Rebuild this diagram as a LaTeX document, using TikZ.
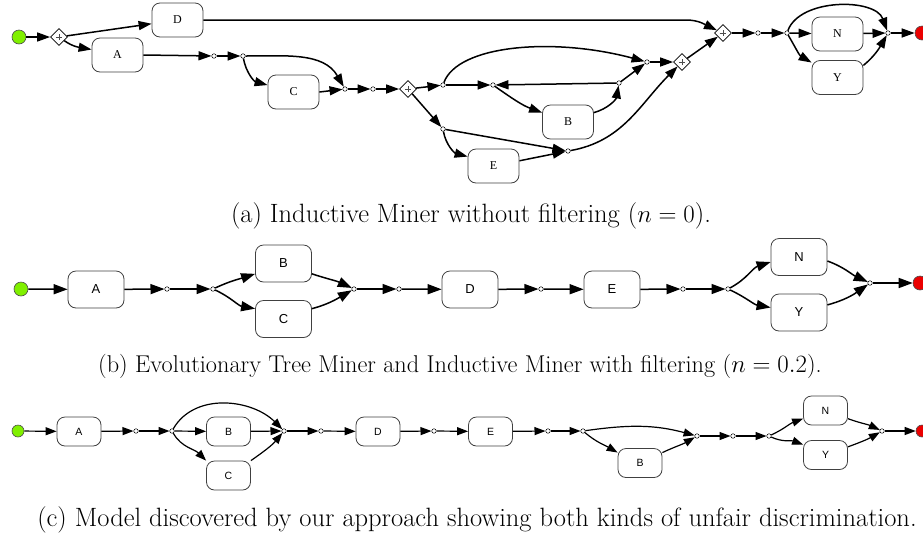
\documentclass[tikz,border=0pt]{standalone}
\usepackage{fontspec}
\newfontfamily\nodeserif{Liberation Serif}
\newfontfamily\nodesans{Liberation Sans}
\usetikzlibrary{arrows.meta,shapes.geometric}
\definecolor{startgreen}{RGB}{128,240,0}
\definecolor{endred}{RGB}{235,0,0}
\tikzset{
  task/.style={draw=black!75, line width=0.8pt, rounded corners=8pt, fill=white, inner sep=0pt},
  taska/.style={task, minimum width=51pt, minimum height=34pt, font=\nodeserif\fontsize{12}{12}\selectfont},
  taskb/.style={task, minimum width=56pt, minimum height=37pt, font=\nodesans\fontsize{13}{13}\selectfont},
  taskc/.style={task, minimum width=44pt, minimum height=29pt, font=\nodesans\fontsize{10.5}{10.5}\selectfont},
  place/.style={circle, draw=black, line width=0.5pt, fill=white, inner sep=0pt, minimum size=4.5pt},
  startev/.style={circle, draw=black!70, line width=0.6pt, fill=startgreen, inner sep=0pt, minimum size=14pt},
  endev/.style={circle, draw=black!70, line width=0.6pt, fill=endred, inner sep=0pt, minimum size=14pt},
  andgate/.style={diamond, draw=black, line width=0.7pt, fill=white, inner sep=0pt,
    minimum width=17pt, minimum height=17pt,
    path picture={\draw[line width=0.5pt, black!70]
      ([xshift=-3.2pt]path picture bounding box.center) -- ([xshift=3.2pt]path picture bounding box.center)
      ([yshift=-3.2pt]path picture bounding box.center) -- ([yshift=3.2pt]path picture bounding box.center);}},
  flowa/.style={line width=1.5pt, -{Triangle[length=13pt,width=9pt]}},
  flowb/.style={line width=1.5pt, -{Triangle[length=14pt,width=10pt]}},
  flowc/.style={line width=1.2pt, -{Triangle[length=11pt,width=8pt]}},
  caption/.style={font=\fontsize{26.5}{30}\selectfont, inner sep=0pt}
}
\begin{document}
\begin{tikzpicture}[x=1pt,y=-1pt]
\useasboundingbox (0,0) rectangle (923,539);

% ---------- (a) Inductive Miner without filtering ----------
\node[startev] (s1) at (19,37) {};
\node[andgate] (g1) at (59,37) {};
\node[taska] (aD) at (177.5,20) {D};
\node[taska] (aA) at (117.5,55) {A};
\node[place] (p1) at (214,56) {};
\node[place] (p2) at (243,56) {};
\node[taska] (aC) at (293.5,92) {C};
\node[place] (p3) at (345,89) {};
\node[place] (p4) at (373,89) {};
\node[andgate] (g2) at (408,89) {};
\node[place] (p5) at (443,85) {};
\node[place] (p6) at (493,85) {};
\node[taska] (aB) at (568,122) {B};
\node[place] (p7) at (619,83) {};
\node[place] (p8) at (647,62) {};
\node[andgate] (g3) at (682,62) {};
\node[place] (p9) at (443,129) {};
\node[taska] (aE) at (493.5,166) {E};
\node[place] (p10) at (568,151) {};
\node[andgate] (g4) at (723,33) {};
\node[place] (p11) at (758,33) {};
\node[place] (p12) at (787,33) {};
\node[taska] (aN) at (837.5,34) {N};
\node[taska] (aY) at (837.5,77.5) {Y};
\node[place] (p13) at (888,33) {};
\node[endev] (e1) at (922,33) {};
\coordinate (dturn) at (686,20);

\draw[flowa] (s1) -- (g1);
\draw[flowa] (g1) -- (aD);
\draw[flowa] (g1) to[out=-35,in=170] (aA.168);
\draw[flowa] (aA.east) -- (p1);
\draw[flowa] (p1) -- (p2);
\draw[flowa] (p2) to[out=-80,in=165] (aC.165);
\draw[flowa] (p2) to[out=0,in=120] (p3);
\draw[flowa] (aC.east) -- (p3);
\draw[flowa] (p3) -- (p4);
\draw[flowa] (p4) -- (g2);
\draw[flowa] (g2) -- (p5);
\draw[flowa] (p5) -- (p6);
\draw[flowa] (p7) -- (p6);
\draw[flowa] (p5) to[out=70,in=165,out distance=40pt,in distance=95pt] (p8);
\draw[flowa] (p6) to[out=-35,in=160] (aB.160);
\draw[flowa] (aB.20) to[out=15,in=-100] (p7);
\draw[flowa] (p7) -- (p8);
\draw[flowa] (p8) -- (g3);
\draw[flowa] (g2) -- (p9);
\draw[flowa] (p9) to[out=-80,in=165] (aE.160);
\draw[flowa] (p9) -- (p10);
\draw[flowa] (aE) -- (p10);
\draw[flowa] (p10) to[out=10,in=-135] (g3);
\draw[flowa] (g3) -- (g4);
\draw[flowa] (aD.east) -- (dturn) to[out=0,in=155] (g4);
\draw[flowa] (g4) -- (p11);
\draw[flowa] (p11) -- (p12);
\draw[flowa] (p12) -- (aN);
\draw[flowa] (p12) to[out=-60,in=150] (aY.150);
\draw[flowa] (p12) to[out=70,in=110,looseness=0.9] (p13);
\draw[flowa] (aN) -- (p13);
\draw[flowa] (aY.25) to[out=40,in=-120] (p13);
\draw[flowa] (p13) -- (e1);

\node[caption] (capa) at (471,216) {(a) Inductive Miner without filtering ($n=0$).};

% ---------- (b) Evolutionary Tree Miner / Inductive Miner with filtering ----------
\node[startev] (s2) at (21,289) {};
\node[taskb] (bA) at (96,289.5) {A};
\node[place] (q1) at (167,289) {};
\node[place] (q2) at (213,289) {};
\node[taskb] (bB) at (283.5,263.5) {B};
\node[taskb] (bC) at (283.5,319) {C};
\node[place] (q3) at (354,289) {};
\node[place] (q4) at (399,289) {};
\node[taskb] (bD) at (470,289.5) {D};
\node[place] (q5) at (541,289) {};
\node[taskb] (bE) at (612,289.5) {E};
\node[place] (q6) at (683,289) {};
\node[place] (q7) at (728,289) {};
\node[taskb] (bN) at (799,257) {N};
\node[taskb] (bY) at (799,312.5) {Y};
\node[place] (q8) at (870,283) {};
\node[endev] (e2) at (920,283) {};

\draw[flowb] (s2) -- (bA);
\draw[flowb] (bA) -- (q1);
\draw[flowb] (q1) -- (q2);
\draw[flowb] (q2) to[out=25,in=198] (bB.200);
\draw[flowb] (q2) to[out=-25,in=170] (bC.160);
\draw[flowb] (bB.-20) to[out=-18,in=155] (q3);
\draw[flowb] (bC.20) to[out=15,in=-150] (q3);
\draw[flowb] (q3) -- (q4);
\draw[flowb] (q4) -- (bD);
\draw[flowb] (bD) -- (q5);
\draw[flowb] (q5) -- (bE);
\draw[flowb] (bE) -- (q6);
\draw[flowb] (q6) -- (q7);
\draw[flowb] (q7) to[out=28,in=198] (bN.190);
\draw[flowb] (q7) to[out=-25,in=170] (bY.170);
\draw[flowb] (bN.-8) to[out=-20,in=155] (q8);
\draw[flowb] (bY.15) to[out=15,in=-145] (q8);
\draw[flowb] (q8) -- (e2);

\node[caption, font=\fontsize{24.3}{28}\selectfont] (capb) at (460,366) {(b) Evolutionary Tree Miner and Inductive Miner with filtering ($n=0.2$).};

% ---------- (c) discovered model ----------
\node[startev, minimum size=12pt] (s3) at (18,431) {};
\node[taskc] (cA) at (79,431.5) {A};
\node[place] (r1) at (136,431) {};
\node[place] (r2) at (172,431) {};
\node[taskc] (cB) at (228.5,431.5) {B};
\node[taskc] (cC) at (228.5,475.5) {C};
\node[place] (r3) at (284,431) {};
\node[place] (r4) at (321,431) {};
\node[taskc] (cD) at (378,431.5) {D};
\node[place] (r5) at (434,431) {};
\node[taskc] (cE) at (490.5,431.5) {E};
\node[place] (r6) at (548,431) {};
\node[place] (r7) at (583,431) {};
\node[taskc] (cB2) at (640,463) {B};
\node[place] (r8) at (697,436) {};
\node[place] (r9) at (733,436) {};
\node[place] (r10) at (769,436) {};
\node[taskc] (cN) at (825.5,410.5) {N};
\node[taskc] (cY) at (825.5,455) {Y};
\node[place] (r11) at (882,431) {};
\node[endev, minimum size=12pt] (e3) at (922,431) {};

\draw[flowc] (s3) -- (cA);
\draw[flowc] (cA) -- (r1);
\draw[flowc] (r1) -- (r2);
\draw[flowc] (r2) -- (cB);
\draw[flowc] (r2) to[out=-60,in=135] (cC.north west);
\draw[flowc] (r2) to[out=60,in=135] (r3);
\draw[flowc] (cB) -- (r3);
\draw[flowc] (cC.north east) to[out=35,in=-130] (r3);
\draw[flowc] (r3) -- (r4);
\draw[flowc] (r4) -- (cD);
\draw[flowc] (cD) -- (r5);
\draw[flowc] (r5) -- (cE);
\draw[flowc] (cE) -- (r6);
\draw[flowc] (r6) -- (r7);
\draw[flowc] (r7) to[out=-40,in=150] (cB2.155);
\draw[flowc] (r7) to[out=8,in=165] (r8);
\draw[flowc] (cB2.25) to[out=25,in=-150] (r8);
\draw[flowc] (r8) -- (r9);
\draw[flowc] (r9) -- (r10);
\draw[flowc] (r10) to[out=25,in=200] (cN.200);
\draw[flowc] (r10) to[out=-25,in=160] (cY.155);
\draw[flowc] (cN.-20) to[out=-20,in=155] (r11);
\draw[flowc] (cY.20) to[out=20,in=-150] (r11);
\draw[flowc] (r11) -- (e3);

\node[caption] (capc) at (477,520) {(c) Model discovered by our approach showing both kinds of unfair discrimination.};
\end{tikzpicture}
\end{document}
